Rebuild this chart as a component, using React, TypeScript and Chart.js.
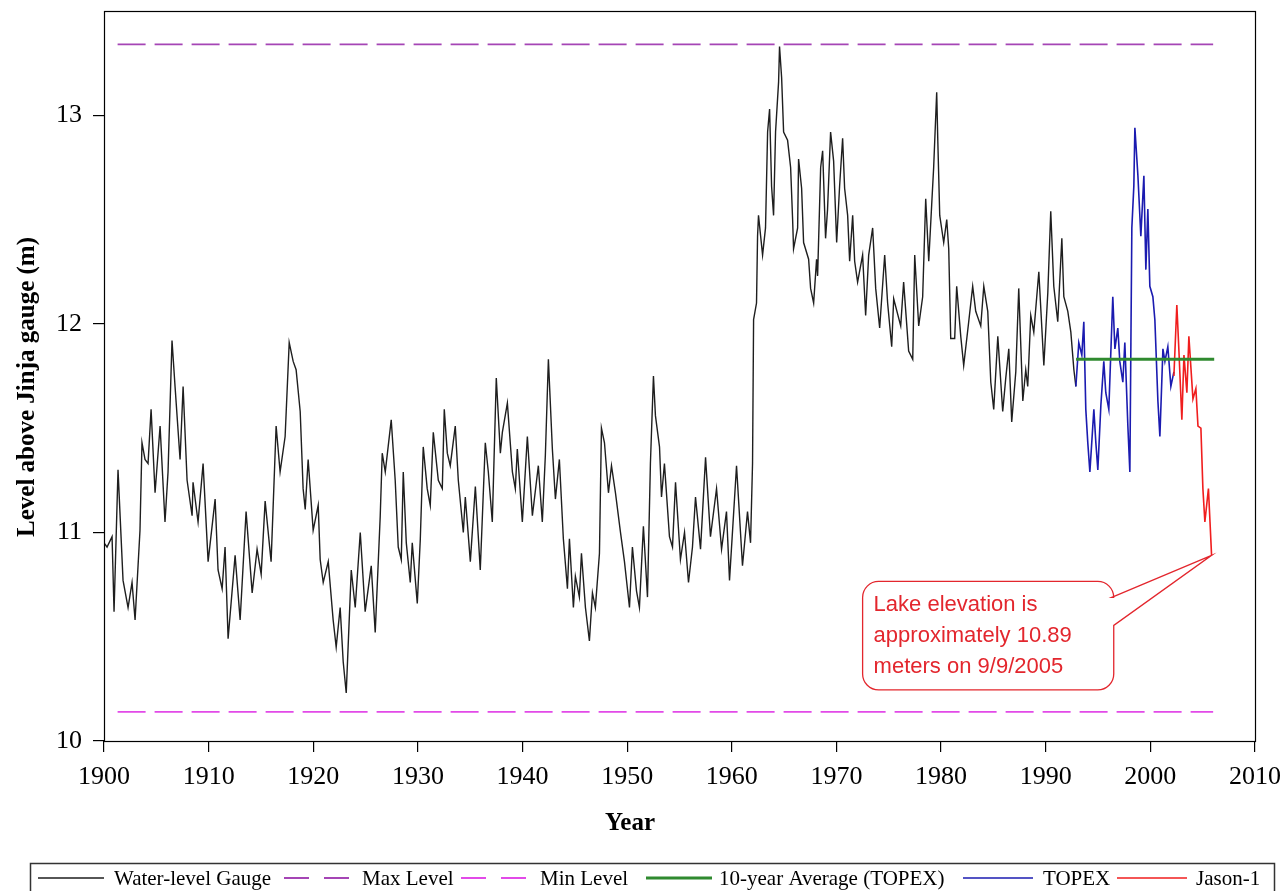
import React, { useEffect, useRef } from "react";
import { Chart, registerables } from "chart.js";

Chart.register(...registerables);

// ---------------- data ----------------
const gaugeYears = [
  1900.0, 1900.29, 1900.77, 1900.96, 1901.34, 1901.82, 1902.3, 1902.68, 1902.97, 1903.44,
  1903.63, 1903.92, 1904.21, 1904.5, 1904.88, 1905.36, 1905.83, 1906.12, 1906.5, 1906.79,
  1907.27, 1907.56, 1907.94, 1908.42, 1908.51, 1908.99, 1909.47, 1909.95, 1910.62, 1910.9,
  1911.29, 1911.57, 1911.86, 1912.53, 1913.01, 1913.58, 1914.16, 1914.63, 1915.02, 1915.4,
  1915.97, 1916.45, 1916.83, 1917.31, 1917.7, 1918.08, 1918.36, 1918.75, 1919.03, 1919.23,
  1919.51, 1919.99, 1920.47, 1920.66, 1920.95, 1921.43, 1921.9, 1922.19, 1922.57, 1922.86,
  1923.15, 1923.63, 1924.01, 1924.49, 1924.96, 1925.54, 1925.92, 1926.4, 1926.59, 1926.88,
  1927.45, 1927.83, 1928.12, 1928.41, 1928.6, 1928.89, 1929.27, 1929.46, 1929.94, 1930.23,
  1930.51, 1930.89, 1931.18, 1931.47, 1931.95, 1932.33, 1932.52, 1932.81, 1933.09, 1933.57,
  1933.86, 1934.34, 1934.53, 1935.01, 1935.49, 1935.96, 1936.44, 1936.73, 1937.11, 1937.49,
  1937.88, 1938.07, 1938.55, 1939.03, 1939.31, 1939.5, 1939.98, 1940.46, 1940.94, 1941.51,
  1941.89, 1942.18, 1942.47, 1942.85, 1943.14, 1943.52, 1943.9, 1944.29, 1944.48, 1944.86,
  1945.05, 1945.43, 1945.63, 1946.01, 1946.39, 1946.68, 1946.96, 1947.35, 1947.54, 1947.83,
  1948.21, 1948.5, 1948.88, 1949.36, 1949.74, 1950.22, 1950.5, 1950.89, 1951.17, 1951.55,
  1951.94, 1952.22, 1952.51, 1952.7, 1953.09, 1953.28, 1953.56, 1954.04, 1954.33, 1954.62,
  1955.09, 1955.48, 1955.86, 1956.24, 1956.53, 1957.01, 1957.49, 1957.96, 1958.54, 1959.02,
  1959.49, 1959.78, 1960.45, 1961.02, 1961.5, 1961.79, 1961.98, 1962.08, 1962.36, 1962.46,
  1962.55, 1962.94, 1963.22, 1963.42, 1963.61, 1963.8, 1963.99, 1964.18, 1964.47, 1964.56,
  1964.76, 1964.95, 1965.33, 1965.62, 1965.81, 1965.9, 1966.29, 1966.38, 1966.67, 1966.86,
  1967.34, 1967.53, 1967.82, 1968.1, 1968.2, 1968.49, 1968.68, 1968.96, 1969.15, 1969.44,
  1969.73, 1970.02, 1970.3, 1970.59, 1970.78, 1971.07, 1971.26, 1971.55, 1971.74, 1972.02,
  1972.5, 1972.79, 1973.08, 1973.46, 1973.75, 1974.13, 1974.61, 1974.89, 1975.28, 1975.47,
  1976.14, 1976.42, 1976.9, 1977.29, 1977.48, 1977.86, 1978.24, 1978.53, 1978.82, 1979.1,
  1979.29, 1979.58, 1979.68, 1979.87, 1980.25, 1980.54, 1980.73, 1980.92, 1981.3, 1981.49,
  1981.88, 1982.16, 1982.64, 1983.02, 1983.31, 1983.79, 1984.08, 1984.46, 1984.75, 1985.03,
  1985.42, 1985.89, 1986.18, 1986.47, 1986.75, 1987.14, 1987.42, 1987.81, 1988.09, 1988.28,
  1988.57, 1988.86, 1989.34, 1989.82, 1990.2, 1990.48, 1990.77, 1991.15, 1991.54, 1991.73,
  1992.11, 1992.4, 1992.69, 1992.88,
];
const gaugeLevels = [
  10.95, 10.93, 10.98, 10.62, 11.3, 10.77, 10.64, 10.76, 10.58, 11.01,
  11.43, 11.35, 11.33, 11.59, 11.19, 11.51, 11.05, 11.29, 11.92, 11.7,
  11.35, 11.7, 11.25, 11.08, 11.24, 11.05, 11.33, 10.86, 11.16, 10.82,
  10.73, 10.93, 10.49, 10.89, 10.58, 11.1, 10.71, 10.92, 10.8, 11.15,
  10.86, 11.51, 11.29, 11.46, 11.91, 11.82, 11.78, 11.58, 11.21, 11.11,
  11.35, 11.01, 11.13, 10.87, 10.76, 10.86, 10.58, 10.45, 10.64, 10.38,
  10.23, 10.82, 10.64, 11.0, 10.62, 10.84, 10.52, 11.08, 11.38, 11.29,
  11.54, 11.25, 10.93, 10.87, 11.29, 10.95, 10.76, 10.95, 10.66, 10.97,
  11.41, 11.21, 11.13, 11.48, 11.25, 11.21, 11.59, 11.38, 11.32, 11.51,
  11.25, 11.0, 11.17, 10.86, 11.22, 10.82, 11.43, 11.29, 11.05, 11.74,
  11.38, 11.48, 11.62, 11.29, 11.21, 11.4, 11.05, 11.46, 11.08, 11.32,
  11.05, 11.37, 11.83, 11.4, 11.16, 11.35, 10.97, 10.73, 10.97, 10.64,
  10.79, 10.69, 10.9, 10.64, 10.48, 10.71, 10.64, 10.9, 11.5, 11.43,
  11.19, 11.32, 11.19, 11.0, 10.86, 10.64, 10.93, 10.72, 10.64, 11.03,
  10.69, 11.33, 11.75, 11.56, 11.41, 11.17, 11.33, 10.98, 10.93, 11.24,
  10.87, 11.0, 10.76, 10.93, 11.17, 10.92, 11.36, 10.98, 11.21, 10.92,
  11.1, 10.77, 11.32, 10.84, 11.1, 10.95, 11.33, 12.02, 12.1, 12.42,
  12.52, 12.33, 12.46, 12.92, 13.03, 12.66, 12.52, 12.92, 13.16, 13.33,
  13.18, 12.92, 12.88, 12.75, 12.5, 12.36, 12.46, 12.79, 12.65, 12.39,
  12.31, 12.17, 12.1, 12.31, 12.23, 12.75, 12.83, 12.41, 12.55, 12.92,
  12.78, 12.39, 12.66, 12.89, 12.65, 12.52, 12.3, 12.52, 12.3, 12.2,
  12.33, 12.04, 12.33, 12.46, 12.17, 11.98, 12.33, 12.1, 11.89, 12.12,
  11.99, 12.2, 11.87, 11.83, 12.33, 11.99, 12.13, 12.6, 12.3, 12.57,
  12.75, 13.11, 12.89, 12.52, 12.39, 12.5, 12.36, 11.93, 11.93, 12.18,
  11.94, 11.8, 12.01, 12.18, 12.06, 11.99, 12.18, 12.06, 11.72, 11.59,
  11.94, 11.58, 11.74, 11.88, 11.53, 11.77, 12.17, 11.63, 11.78, 11.7,
  12.04, 11.96, 12.25, 11.8, 12.15, 12.54, 12.18, 12.01, 12.41, 12.13,
  12.06, 11.96, 11.78, 11.7,
];

const topexYears = [
  1992.88, 1993.16, 1993.45, 1993.64, 1993.83, 1994.02, 1994.22, 1994.6, 1994.79, 1994.98,
  1995.27, 1995.55, 1995.74, 1996.03, 1996.41, 1996.61, 1996.89, 1997.08, 1997.37, 1997.56,
  1997.85, 1998.04, 1998.14, 1998.23, 1998.42, 1998.52, 1998.81, 1999.09, 1999.38, 1999.57,
  1999.76, 1999.95, 2000.24, 2000.43, 2000.72, 2000.91, 2001.2, 2001.39, 2001.67, 2001.96,
  2002.25,
];
const topexLevels = [
  11.7, 11.91, 11.85, 12.01, 11.59, 11.43, 11.29, 11.59, 11.43, 11.3,
  11.61, 11.82, 11.67, 11.59, 12.13, 11.88, 11.98, 11.82, 11.72, 11.91,
  11.51, 11.29, 11.91, 12.46, 12.66, 12.94, 12.71, 12.42, 12.71, 12.26,
  12.55, 12.18, 12.13, 12.02, 11.63, 11.46, 11.88, 11.82, 11.89, 11.7,
  11.77,
];

const jasonYears = [
  2002.25, 2002.53, 2002.73, 2003.01, 2003.21, 2003.49, 2003.68, 2004.07, 2004.35, 2004.55,
  2004.83, 2005.02, 2005.21, 2005.4, 2005.55, 2005.7, 2005.85,
];
const jasonLevels = [
  11.75, 12.09, 11.87, 11.54, 11.85, 11.67, 11.94, 11.64, 11.69, 11.51,
  11.5, 11.21, 11.05, 11.14, 11.21, 11.05, 10.89,
];

const maxLevelYears = [1901.3, 2006.0];
const maxLevelValues = [13.34, 13.34];
const minLevelYears = [1901.3, 2006.0];
const minLevelValues = [10.14, 10.14];
const averageYears = [1992.9, 2006.1];
const averageValues = [11.83, 11.83];

const xTickValues = [1900, 1910, 1920, 1930, 1940, 1950, 1960, 1970, 1980, 1990, 2000, 2010];
const yTickValues = [10, 11, 12, 13];

const seriesNames = [
  "Water-level Gauge",
  "Max Level",
  "Min Level",
  "10-year Average (TOPEX)",
  "TOPEX",
  "Jason-1",
];
const xTitle = "Year";
const yTitle = "Level above Jinja gauge (m)";
const calloutLines = ["Lake elevation is", "approximately 10.89", "meters on 9/9/2005"];
const calloutTip = { x: 2005.85, y: 10.89 };
const calloutBox = { x0: 1972.5, x1: 1996.5, y0: 10.765, y1: 10.245 };

// ---------------- styles ----------------
const SERIF = '"Liberation Serif", "Times New Roman", serif';
const SANS = '"Liberation Sans", Arial, sans-serif';
const colors = {
  gauge: "#1e1e1e",
  max: "#a545b5",
  min: "#e24ae8",
  avg: "#2f8a2f",
  topex: "#1b1bb0",
  jason: "#f01e1e",
  callout: "#e3262d",
};

function pts(xs: number[], ys: number[]) {
  return xs.map((x, i) => ({ x, y: ys[i] }));
}

const decorPlugin = {
  id: "decor",
  afterDraw(chart: any) {
    const { ctx, chartArea: a, scales } = chart;
    const xs = scales.x;
    const ys = scales.y;
    ctx.save();

    // plot frame
    ctx.strokeStyle = "#000";
    ctx.lineWidth = 1.2;
    ctx.setLineDash([]);
    ctx.strokeRect(Math.round(a.left) + 0.5, Math.round(a.top) + 0.5, Math.round(a.right - a.left), Math.round(a.bottom - a.top));

    // axis titles
    ctx.fillStyle = "#000";
    ctx.font = `bold 25px ${SERIF}`;
    ctx.textAlign = "center";
    ctx.textBaseline = "middle";
    ctx.fillText(xTitle, a.left + (a.right - a.left) * 0.457, 824);
    ctx.save();
    ctx.translate(28, (a.top + a.bottom) / 2 + 11);
    ctx.rotate(-Math.PI / 2);
    ctx.font = `bold 25px ${SERIF}`;
    ctx.fillText(yTitle, 0, 0);
    ctx.restore();

    // callout
    const tx = xs.getPixelForValue(calloutTip.x);
    const ty = ys.getPixelForValue(calloutTip.y);
    const L = xs.getPixelForValue(calloutBox.x0);
    const R = xs.getPixelForValue(calloutBox.x1);
    const T = ys.getPixelForValue(calloutBox.y0);
    const B = ys.getPixelForValue(calloutBox.y1);
    const r = 16;
    ctx.beginPath();
    ctx.moveTo(L + r, T);
    ctx.lineTo(R - r, T);
    ctx.arcTo(R, T, R, T + r, r);
    ctx.lineTo(R - 2, T + 16);
    ctx.lineTo(tx, ty);
    ctx.lineTo(R, T + 44);
    ctx.lineTo(R, B - r);
    ctx.arcTo(R, B, R - r, B, r);
    ctx.lineTo(L + r, B);
    ctx.arcTo(L, B, L, B - r, r);
    ctx.lineTo(L, T + r);
    ctx.arcTo(L, T, L + r, T, r);
    ctx.closePath();
    ctx.fillStyle = "#fff";
    ctx.fill();
    ctx.strokeStyle = colors.callout;
    ctx.lineWidth = 1.3;
    ctx.stroke();
    ctx.fillStyle = colors.callout;
    ctx.font = `22px ${SANS}`;
    ctx.textAlign = "left";
    ctx.textBaseline = "middle";
    calloutLines.forEach((line, i) => {
      ctx.fillText(line, L + 11, T + 23 + i * 31);
    });

    // legend
    const lgTop = 863;
    const lgLeft = 30;
    const lgRight = 1274;
    ctx.strokeStyle = "#333";
    ctx.lineWidth = 1.5;
    ctx.beginPath();
    ctx.moveTo(lgLeft + 0.5, 895);
    ctx.lineTo(lgLeft + 0.5, lgTop + 0.5);
    ctx.lineTo(lgRight + 0.5, lgTop + 0.5);
    ctx.lineTo(lgRight + 0.5, 895);
    ctx.stroke();
    const items = [
      { s: 38, e: 104, t: 114, color: colors.gauge, dash: [] as number[], w: 1.5 },
      { s: 284, e: 350, t: 362, color: colors.max, dash: [25, 15], w: 2 },
      { s: 461, e: 528, t: 540, color: colors.min, dash: [25, 15], w: 2 },
      { s: 646, e: 712, t: 719, color: colors.avg, dash: [], w: 3 },
      { s: 963, e: 1033, t: 1043, color: colors.topex, dash: [], w: 1.5 },
      { s: 1117, e: 1187, t: 1196, color: colors.jason, dash: [], w: 1.5 },
    ];
    const ly = 878;
    ctx.font = `21px ${SERIF}`;
    ctx.textBaseline = "middle";
    ctx.textAlign = "left";
    items.forEach((it, i) => {
      ctx.beginPath();
      ctx.setLineDash(it.dash);
      ctx.strokeStyle = it.color;
      ctx.lineWidth = it.w;
      ctx.moveTo(it.s, ly);
      ctx.lineTo(it.e, ly);
      ctx.stroke();
      ctx.setLineDash([]);
      ctx.fillStyle = "#000";
      ctx.fillText(seriesNames[i], it.t, ly + 1);
    });

    ctx.restore();
  },
};

export default function App() {
  const ref = useRef<HTMLCanvasElement | null>(null);

  useEffect(() => {
    document.body.style.margin = "0";
    const canvas = ref.current;
    if (!canvas) return;
    const lineDs = (label: string, data: any[], color: string, width: number, dash: number[], order: number) => ({
      label,
      data,
      borderColor: color,
      backgroundColor: color,
      borderWidth: width,
      borderDash: dash,
      pointRadius: 0,
      tension: 0,
      fill: false,
      order,
    });
    const chart = new Chart(canvas, {
      type: "line",
      data: {
        datasets: [
          lineDs(seriesNames[0], pts(gaugeYears, gaugeLevels), colors.gauge, 1.4, [], 4),
          lineDs(seriesNames[1], pts(maxLevelYears, maxLevelValues), colors.max, 1.8, [28, 9], 5),
          lineDs(seriesNames[2], pts(minLevelYears, minLevelValues), colors.min, 1.8, [28, 9], 6),
          lineDs(seriesNames[3], pts(averageYears, averageValues), colors.avg, 3, [], 0),
          lineDs(seriesNames[4], pts(topexYears, topexLevels), colors.topex, 1.6, [], 2),
          lineDs(seriesNames[5], pts(jasonYears, jasonLevels), colors.jason, 1.6, [], 1),
        ],
      },
      options: {
        animation: false,
        responsive: true,
        maintainAspectRatio: false,
        parsing: false as any,
        normalized: true,
        layout: { padding: { top: 11, right: 30, bottom: 0, left: 0 } },
        plugins: {
          legend: { display: false },
          tooltip: { enabled: false },
        },
        scales: {
          x: {
            type: "linear",
            min: 1900,
            max: 2010,
            afterFit: (s: any) => {
              s.height = 150;
              s.paddingLeft = 0;
              s.paddingRight = 0;
            },
            afterBuildTicks: (s: any) => {
              s.ticks = xTickValues.map((v) => ({ value: v }));
            },
            grid: { drawOnChartArea: false, drawTicks: true, tickLength: 11, color: "#000", lineWidth: 1.2 },
            border: { display: false },
            ticks: {
              color: "#000",
              font: { family: SERIF, size: 26 },
              padding: 10,
              maxRotation: 0,
              autoSkip: false,
              callback: (v: any) => String(v),
            },
          },
          y: {
            type: "linear",
            min: 10,
            max: 13.5,
            afterFit: (s: any) => {
              s.width = 104;
              s.paddingTop = 0;
              s.paddingBottom = 0;
            },
            afterBuildTicks: (s: any) => {
              s.ticks = yTickValues.map((v) => ({ value: v }));
            },
            grid: { drawOnChartArea: false, drawTicks: true, tickLength: 11, color: "#000", lineWidth: 1.2 },
            border: { display: false },
            ticks: {
              color: "#000",
              font: { family: SERIF, size: 26 },
              padding: 11,
              autoSkip: false,
              callback: (v: any) => String(v),
            },
          },
        },
      },
      plugins: [decorPlugin],
    });
    return () => chart.destroy();
  }, []);

  return (
    <div style={{ position: "fixed", left: 0, top: 0, width: 1285, height: 891, background: "#fff" }}>
      <canvas ref={ref} />
    </div>
  );
}
